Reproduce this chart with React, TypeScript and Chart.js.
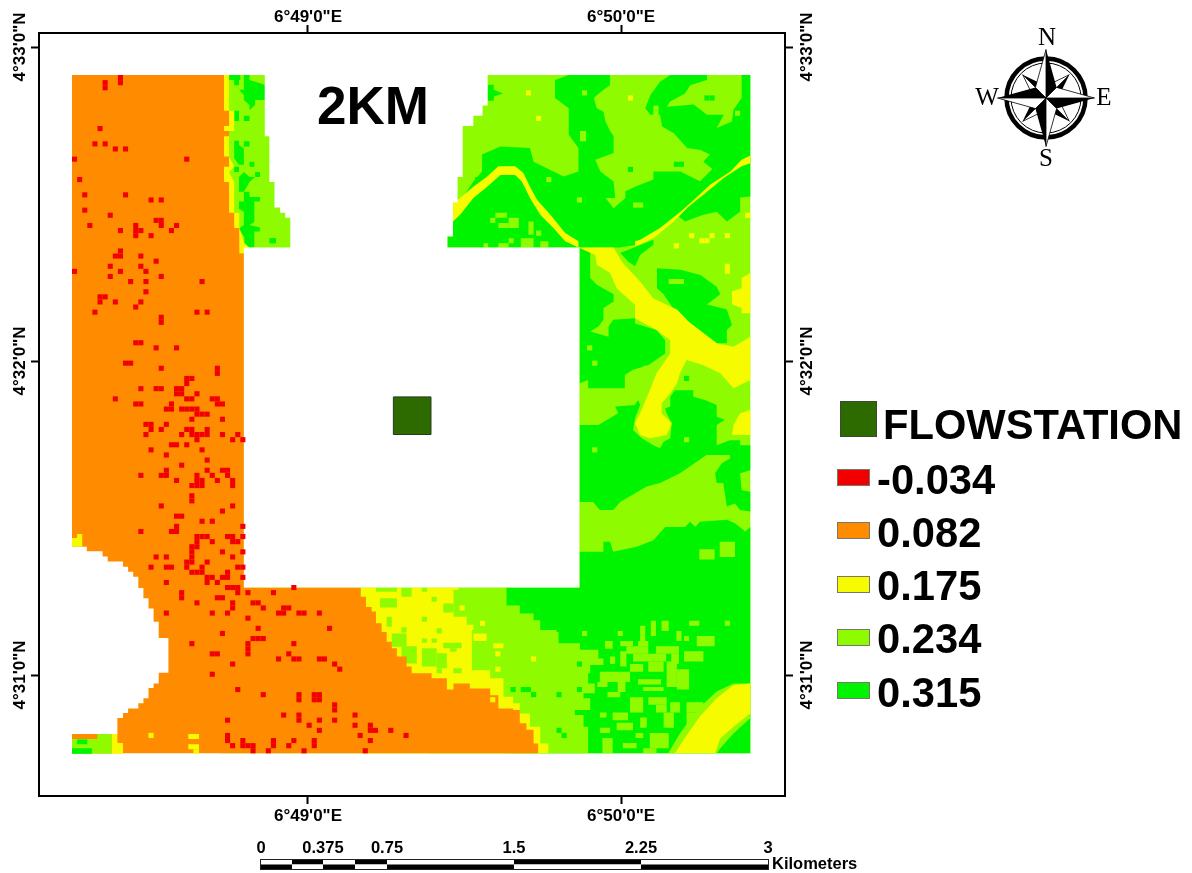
import React, { useEffect, useRef } from "react";
import { Chart, registerables } from "chart.js";

Chart.register(...registerables);

type P = [number, number];
type R = [number, number, number, number];

const RED = "#f20000";
const ORANGE = "#ff8c00";
const YELLOW = "#f6fb00";
const LIME = "#8efb00";
const GREEN = "#00f400";
const WHITE = "#ffffff";

// raster columns / rows (one cell = 30 m); ticks fall at these raster positions
const X_TICKS = [46.27, 107.65];
const X_LABELS = ["6°49'0\"E", "6°50'0\"E"];
const Y_TICKS = [-5.49, 56.08, 117.65];
const Y_LABELS = ["4°33'0\"N", "4°32'0\"N", "4°31'0\"N"];

const LEGEND_VALUES = ["-0.034", "0.082", "0.175", "0.234", "0.315"];
const SCALE_KM = ["0", "0.375", "0.75", "1.5", "2.25", "3"];

const flowstation: P[] = [[66.7, 66.8]];

const limeBase: P[] = [[29, 0], [133, 0], [133, 133], [29, 133]];

const greenNE: P[] = [[117.3, 0], [124.5, 0], [124.5, 1], [121.2, 2], [120.2, 3.6], [117.3, 5.2], [116.6, 6.2], [121.9, 5.8], [124.5, 7.8], [127.8, 7.8], [126.4, 10.4], [129.4, 9.1], [129.7, 6.8], [131.3, 4.5], [131.3, 0], [133, 0], [133, 15], [129.7, 15.3], [129.1, 17], [125.8, 18.6], [123.8, 17], [125.1, 15.6], [123.2, 14.7], [120.6, 14.3], [118, 11.4], [115.7, 10.1], [115.3, 7.8], [113.4, 7.8], [112.4, 6.5], [113.4, 3.9], [115.3, 1.3]];

const greenCentre: P[] = [[73.6, 33.8], [73.6, 31.7], [74.7, 31.7], [74.7, 28.7], [76, 25], [78.7, 20.9], [80.4, 18.9], [80.4, 15.6], [84, 14], [89.8, 14.3], [90.5, 17], [94.4, 18.9], [96.4, 19.9], [99.3, 18.9], [99.3, 14.3], [97.4, 11.7], [97.4, 6.5], [94.7, 4.5], [94.7, 1], [97.4, 0], [105.5, 0], [105.5, 2], [104.2, 2.9], [102.3, 4.5], [102.9, 6.5], [104.2, 7.2], [104.6, 9.1], [105.5, 11], [106.2, 12], [106.2, 15.3], [102.6, 16.6], [103.6, 18.9], [106.2, 20.9], [106.5, 24.1], [104.6, 24.1], [106.2, 26.1], [108.5, 24.1], [108.5, 22.8], [110.4, 21.9], [114, 20.5], [114, 18.9], [119.3, 18.9], [123.2, 20.9], [123.8, 23.2], [120.9, 25.5], [118, 28.4], [114, 31.3], [110.8, 33.3], [107.5, 33.8]];

const greenNorthOfRiver: P[] = [[123, 21], [126, 18], [130, 15], [133, 15], [133, 17], [126, 23], [122, 27]];
const greenSouthOfRiver: P[] = [[133, 17], [133, 23.8], [131, 24], [131, 26.8], [128.4, 28.7], [126.4, 26.8], [123.8, 27.4], [120.2, 28.7], [118.9, 27.7], [123.8, 23.2], [127.8, 19.9]];
const greenBelowFork: P[] = [[107.5, 34.9], [114, 32.3], [114, 33.3], [111.4, 35.3], [110.4, 37.5], [109.1, 36.6]];
const greenNW: P[] = [[81.5, 1.9], [82.7, 1.9], [82.7, 2.9], [84.5, 3.6], [82.7, 4.2], [82.7, 5.06], [81.5, 5.06]];

const greenWest: P[] = [[99.5, 33.8], [101.6, 33.8], [101.6, 39.8], [102.9, 41.1], [106.2, 43], [106.2, 44.4], [104.2, 45.7], [104.2, 48], [103.2, 49.3], [101.6, 50.3], [105.2, 51.3], [105.2, 49.3], [106.1, 48], [110.4, 47.7], [110.4, 48.7], [114.6, 50], [116.3, 52], [116.3, 54.6], [113, 56.9], [110, 57.8], [108.4, 58.8], [108.4, 61.4], [101.2, 61.4], [101.2, 59.8], [99.5, 60.5]];

const greenPocket: P[] = [[114.7, 37.9], [119.3, 38.2], [123.2, 39.2], [126.4, 41.5], [127.1, 43], [124.5, 45], [128.4, 46], [129.4, 49], [128.4, 50], [128.4, 52.6], [126.4, 52.6], [120.9, 48.4], [118.6, 46], [118, 46], [116, 43], [114.7, 41.8]];

const greenMiddle: P[] = [[99.5, 68.6], [103.2, 68.6], [107.1, 66.3], [106.5, 65], [110.4, 64.7], [111, 63.7], [111.4, 64.7], [110.4, 67.3], [110, 69.6], [111.7, 71.2], [114, 72.6], [115.3, 73.2], [116, 71.9], [117.3, 71.2], [117.6, 68.3], [116.6, 66.3], [116.3, 65.4], [117.3, 65], [117.3, 63.1], [118.2, 61.8], [121.8, 61.8], [121.8, 63.1], [124.1, 63.7], [126.4, 64.7], [126.4, 67], [128, 67.6], [126.4, 68.6], [126.4, 72.6], [129, 71.6], [131, 71.6], [131, 72.6], [133, 72.6], [133, 77.5], [131, 78.1], [131.3, 81.4], [133, 81.7], [133, 85.6], [131, 85.3], [130, 84], [128.4, 84.6], [127.7, 80], [126.4, 80], [126.1, 78.1], [127.4, 76.1], [129, 75.2], [129, 74.5], [124.4, 74.5], [119.2, 78.1], [115.3, 80], [112.7, 80.7], [110.4, 82], [107.5, 83.7], [106.1, 85.3], [103.5, 85.3], [102.2, 83.7], [99.5, 83.7]];

const greenSouth: P[] = [[99.5, 93.5], [104.2, 93.5], [104.2, 91.5], [105.5, 91.5], [106.1, 93.5], [110.7, 92.5], [114, 91.2], [116.3, 88.6], [120.2, 88.6], [121.2, 87.6], [122.2, 88.6], [123.1, 87.6], [128.4, 87.2], [130, 87.9], [132, 89.5], [133, 88.6], [133, 133], [85, 133], [85, 100.5], [99.5, 100.5]];

const limeSouthWest: P[] = [[70, 100.5], [85.2, 100.5], [85.2, 104], [87.8, 105.6], [90.5, 106.9], [91.8, 108.8], [95, 109.2], [95.4, 111.4], [99.6, 112.7], [103.2, 114.4], [104.2, 115.7], [101.6, 117.3], [101.2, 119.3], [102.5, 121.2], [100.3, 122.2], [101.6, 124.5], [98.6, 125.5], [100.3, 127.8], [101.2, 131], [101.2, 133], [70, 133]];
const limeCorner: P[] = [[116.9, 133], [119.2, 129.1], [122.5, 124.5], [126.4, 120.9], [129.7, 119.3], [133, 119.3], [133, 126.1], [129.7, 129.1], [127.1, 132], [126.4, 133]];

const limePatches: R[] = [
  [123, 93, 126, 95], [127, 91.5, 130, 94.5], [83, 27, 85.3, 28], [85.6, 28, 87.6, 30], [83.6, 29, 85.6, 30], [85.6, 32, 86.6, 33], [83.6, 33, 85.6, 33.8], [89.5, 28.7, 90.5, 31.3], [88, 32, 90.5, 33.8], [91.8, 32.6, 93.4, 33.8], [80.7, 33, 81.6, 33.8], [91, 30.5, 92, 31.5], [99.6, 11, 100.8, 13], [117, 40, 120, 41],
  [121, 107, 123, 108], [113.5, 107, 114.5, 110], [115.6, 107, 117, 109], [111.4, 108, 112.4, 111], [122.5, 110, 126, 112], [118.5, 109, 119.5, 111], [120, 110, 121, 111], [107, 109, 108, 110], [104.5, 111, 106, 112.5],
  [107.5, 111, 110, 112], [111, 111, 113, 112], [108.7, 112, 113, 113.5], [114.5, 112, 119, 113.5], [110, 113.5, 116.5, 115], [117.5, 113.5, 119, 115.5], [120, 113, 123.8, 115], [105.5, 114, 106.5, 115.5], [107.5, 113, 108.7, 116],
  [103.5, 117, 109.4, 119], [109.4, 115.5, 112, 117], [113, 115, 116, 117], [116.6, 115, 118.6, 120], [118.6, 116.5, 121, 120.5], [107, 119, 108.5, 121], [103, 119, 105, 120], [111, 118.5, 115.5, 119.5], [112, 120, 116, 120.8], [105, 121, 107.5, 122],
  [109.4, 122, 112, 125], [113, 122, 116.6, 123.5], [114.5, 123.5, 116.6, 125], [106, 125, 109, 126.5], [103.5, 125, 104.8, 126], [111.4, 126, 112.7, 128], [116, 125, 118, 128], [117.3, 123, 119.2, 125], [120.5, 123, 123.8, 125], [120.5, 125, 122.5, 127.5], [103.5, 128, 105.5, 129], [108, 131, 110.7, 132], [112, 132, 114.6, 133], [106.8, 127, 110, 128.5], [113.3, 129, 117, 132], [104, 130, 106, 133], [110.5, 129, 112, 130],
];

const yellowRiver: P[] = [[74.7, 25.1], [76.1, 24.1], [78.7, 21.9], [81.4, 19.9], [83.6, 17.9], [86.9, 17.9], [88.5, 19.2], [89.8, 21.9], [91.2, 24.5], [93.8, 27.4], [96.7, 31], [99.3, 32.6], [99.3, 33.8], [96.7, 32.6], [94.4, 30], [91.8, 27.4], [89.8, 24.1], [88.2, 20.9], [86.9, 19.6], [84, 19.6], [81.4, 21.9], [78.7, 24.1], [76.1, 27.4], [74.7, 28.7]];
const yellowBranch: P[] = [[133, 15.8], [131.3, 16.6], [129.1, 18.9], [125.1, 21.5], [121.9, 24.5], [119.3, 26.8], [115.3, 30], [111.4, 32.3], [110.4, 32.6], [110.4, 33.6], [114, 32], [118, 28.7], [120.9, 25.8], [123.8, 23.5], [127.8, 20.2], [131.3, 17.9], [133, 17.3]];
const yellowTrunk: P[] = [[99.3, 33.8], [102.6, 35.3], [102.9, 37.2], [105.5, 38.8], [106.8, 41.8], [110.4, 45.1], [110.4, 47.7], [114.6, 50], [117.3, 52], [117.3, 54.6], [114.6, 58.5], [113.3, 61.8], [111.4, 66.3], [110.4, 68.3], [111.4, 70.6], [113.3, 71.2], [116.6, 70.6], [117.6, 68.3], [115.6, 66.3], [115.6, 64.4], [117.3, 62.4], [118.6, 60.5], [119.2, 58.5], [120.5, 55.9], [123.8, 56.9], [127.1, 58.5], [129.7, 61.4], [133, 59.8], [133, 51.3], [129.7, 53.3], [126.4, 52.6], [120.9, 48.4], [118.6, 46], [114, 43.8], [111.4, 40.5], [109.5, 38.5], [107.8, 36.6], [106.2, 33.8]];
const yellowEast: P[] = [[133, 65.7], [131, 66.3], [129.7, 68.6], [129.4, 70.6], [133, 70.6]];
const yellowNorthEast: P[] = [[133, 38.8], [131.3, 39.8], [131.3, 41.8], [129.4, 42.4], [129.4, 45], [131.3, 45.7], [131.3, 46.7], [133, 46.7]];
const yellowCorner: P[] = [[118.2, 133], [119.9, 130.4], [123.1, 125.8], [126.4, 122.2], [129.7, 119.6], [133, 119.3], [133, 125.2], [129.7, 127.8], [127.1, 130.1], [126.1, 133]];
const yellowStrip: P[] = [[29, 0], [30.8, 0], [30.8, 7], [31.8, 7], [31.8, 11], [30.8, 11], [30.8, 16], [31.8, 18], [30.8, 19], [31.8, 21], [31.8, 27], [32.8, 27], [32.8, 30], [33.8, 33], [34.8, 33.8], [34.8, 35], [29, 35]];
const yellowFringe: P[] = [[56.6, 100.5], [75.8, 100.5], [75.8, 101], [74.8, 103.6], [74.8, 106.2], [77.4, 107.8], [78.7, 108.8], [78.4, 111.1], [78.4, 116.7], [82, 118.3], [84.6, 119.6], [84.6, 121.9], [86.5, 123.2], [87.8, 125.2], [89.8, 127.8], [91.8, 131.1], [93.4, 133], [56.6, 133]];

const limeOnYellow: R[] = [
  [59.6, 100.5, 63.7, 101.3], [64.6, 100.5, 66.6, 102.3], [60.4, 102.6, 63.7, 104.4], [61.7, 106.2, 62.7, 108.2], [64.6, 108.3, 65.6, 109.3], [62.7, 109.5, 65.6, 112.1], [64.6, 112, 67.6, 115.4], [68.6, 112.4, 71.5, 116], [71.5, 113.4, 73.5, 116.3], [68.6, 110.5, 69.6, 111.3], [70.5, 110.5, 71.5, 111.3], [72.8, 111.3, 76.4, 112.4], [74.1, 112.4, 75.4, 113.1], [71.5, 108.5, 72.5, 109.5], [68.6, 106.2, 69.6, 107.2], [70.5, 102.3, 71.5, 103.3], [72.8, 103.6, 74.8, 105.4], [74.8, 116.3, 76.4, 117.3], [71.5, 116.3, 72.5, 117.3], [68.6, 100.5, 69.6, 101.3],
];
const yellowOnLime: R[] = [[78.7, 109.5, 81.3, 111], [82.6, 111.4, 84.6, 112.4]];

const orangeZone: P[] = [[0, 0], [29.8, 0], [29.8, 7], [30.8, 7], [30.8, 10], [29.8, 10], [29.8, 11], [30.8, 11], [30.8, 12], [29.8, 12], [29.8, 16], [30.8, 16], [30.8, 18], [29.8, 18], [29.8, 21], [30.8, 21], [30.8, 27], [31.8, 27], [31.8, 30], [32.8, 30], [32.8, 35], [33.7, 35], [33.7, 100.5], [56.6, 100.5], [56.6, 102.3], [57.65, 102.3], [57.65, 104.3], [58.75, 105.2], [59.6, 107.5], [60.7, 109.2], [61.7, 111.1], [62.7, 112.4], [63.7, 114], [65.6, 116], [66.6, 117.3], [70.5, 118.3], [73.5, 119.3], [73.5, 120.5], [74.8, 120.5], [74.8, 119.3], [76.7, 119.3], [78, 120.3], [82, 121.6], [83.6, 124.2], [86.5, 124.5], [87.8, 127.1], [89.1, 128.4], [90.5, 131.1], [91.4, 133], [0, 133]];

const whiteTop: P[] = [[37.8, -0.2], [81.5, -0.2], [81.5, 6], [80.5, 6], [80.5, 8], [78.7, 8], [78.7, 10], [76.6, 10], [76.6, 20], [75.6, 20], [75.6, 25], [74.7, 25], [74.7, 31.6], [73.6, 31.6], [73.6, 33.9], [42.8, 33.9], [42.8, 28], [41.8, 28], [41.8, 27], [40.8, 27], [40.8, 26], [39.7, 26], [39.7, 21], [38.7, 21], [38.7, 12], [37.8, 12]];
const whiteSquare: P[] = [[33.7, 33.8], [99.5, 33.8], [99.5, 100.5], [33.7, 100.5]];
const whiteBay: P[] = [[-0.2, 92.5], [2.9, 92.5], [2.9, 93.4], [6, 93.4], [6, 94.4], [7, 95.4], [10, 95.5], [10, 96.4], [11, 97.4], [12, 98.4], [13, 100.6], [14, 102.6], [15, 104.6], [16, 107.2], [17, 110.4], [18.9, 110.4], [18.9, 117.2], [17, 117.3], [17, 119.3], [16, 120.2], [15, 122.2], [14, 123.2], [13, 124.2], [11, 125.1], [10, 126.1], [8.9, 127.1], [8.9, 129.2], [-0.2, 129.2]];

const limeBottomLeft: P[] = [[0, 130.2], [5, 130.2], [5, 129.2], [7.8, 129.2], [7.8, 133.1], [0, 133.1]];
const yellowBottomLeft: P[] = [[7.8, 129.2], [8.9, 129.2], [8.9, 131], [10, 131], [10, 133.1], [7.8, 133.1]];
const greenBottomLeft: R[] = [[1, 130.3, 3, 131.2], [0, 132, 3.9, 133.1]];
const yellowWestEdge: P[] = [[0, 90.8], [1, 90.8], [1, 90], [2, 90], [2, 92.5], [0, 92.5]];
const yellowOnOrange: R[] = [[22.8, 129.2, 24.9, 130.2], [22.8, 131.2, 24.9, 132.2], [23.8, 132.2, 24.9, 133.1]];

const greenWestTop: P[] = [[33.7, 0], [34.8, 0], [34.8, 1], [36.9, 1.6], [37.8, 1.96], [37.8, 4.9], [35.9, 4.9], [35.9, 5.9], [34.8, 6.9], [34.8, 5.9], [33.7, 4.9], [33.7, 3.9], [32.75, 2.9], [33.7, 2.9]];
const greenWestMid: P[] = [[31.8, 12.9], [32.75, 12.9], [32.75, 13.7], [33.7, 14.4], [33.7, 17.6], [32.75, 17.6], [31.8, 16.3]];
const greenWestLow: P[] = [[33.7, 19], [34.8, 20], [35.9, 20], [34.8, 21], [33.7, 22.9], [34.8, 22.9], [34.8, 23.9], [36.85, 23.9], [36.85, 24.8], [35.75, 24.8], [35.75, 28.8], [34.8, 29.4], [36.85, 29.9], [36.85, 30.7], [35.75, 30.7], [35.75, 33.8], [33.8, 33.8], [33.8, 31.8], [32.75, 30.1], [33.7, 29.4], [33.7, 26.8], [32.75, 26.2], [32.75, 24.8], [33.7, 24.8], [33.7, 22.9], [32.75, 22.9], [32.75, 20]];
const greenWestPatches: R[] = [[30.8, 0, 33, 1], [31.8, 1, 32.75, 2], [31.8, 7, 32.75, 9], [33.7, 8, 34.8, 9], [33.7, 13, 34.8, 14], [34.8, 17, 35.75, 18], [31.8, 18, 32.75, 19], [35.9, 19, 36.85, 20], [38.7, 32, 39.7, 33]];

const redCells: P[] = [
  [6, 1], [6, 2], [9, 0], [9, 1], [5, 10], [4, 13], [6, 13], [8, 14], [10, 14], [0, 16], [22, 16], [1, 20], [2, 23], [10, 23], [15, 24], [17, 24], [2, 26], [7, 27], [3, 29], [9, 30], [12, 29], [12, 30], [12, 31], [13, 30], [15, 31], [16, 28], [17, 28], [17, 29], [19, 30], [20, 29],
  [9, 34], [8, 35], [9, 35], [13, 35], [16, 36], [7, 37], [13, 37], [0, 38], [9, 38], [14, 38], [7, 39], [17, 39], [11, 40], [14, 40], [25, 40], [14, 42], [5, 43], [6, 43], [5, 44], [8, 44], [13, 44], [12, 45],
  [4, 46], [24, 46], [26, 46], [17, 47], [17, 48], [12, 52], [13, 52], [16, 53], [20, 53], [10, 56], [11, 56], [17, 57], [28, 57], [28, 58], [22, 59], [23, 59], [22, 60], [13, 61], [16, 61], [17, 61], [20, 61], [21, 61], [20, 62], [21, 62], [24, 62], [8, 63], [22, 63], [23, 63], [27, 63], [28, 63], [28, 64], [29, 64], [12, 64], [13, 64], [19, 64], [18, 65], [19, 65], [21, 65], [22, 65], [23, 65], [24, 65], [24, 66], [25, 66], [26, 66], [23, 67], [29, 67],
  [14, 68], [15, 68], [18, 68], [15, 69], [17, 69], [22, 69], [23, 69], [26, 69], [14, 70], [21, 70], [23, 70], [24, 70], [25, 70], [26, 70], [29, 70], [32, 70], [24, 71], [31, 71], [33, 71], [19, 72], [20, 72], [22, 72], [15, 73], [25, 73], [18, 74], [26, 75], [21, 76], [18, 77], [26, 77], [29, 77], [30, 77], [13, 78], [17, 78], [18, 78], [24, 78], [27, 78], [30, 78], [20, 79], [24, 79], [25, 79], [28, 79], [31, 79], [23, 80], [24, 80], [25, 80], [31, 80],
  [23, 82], [23, 83], [17, 84], [31, 84], [29, 85], [20, 86], [21, 86], [25, 87], [27, 87], [20, 88], [33, 88], [13, 89], [19, 89], [20, 89], [24, 90], [25, 90], [26, 90], [30, 90], [31, 90], [33, 90], [24, 91], [27, 91], [31, 91], [32, 91], [23, 92], [24, 92], [23, 93], [29, 93], [33, 93], [23, 94], [16, 94], [18, 94], [31, 94], [22, 95], [23, 95], [26, 95], [15, 96], [18, 96], [19, 96], [22, 96], [25, 96], [32, 96], [33, 96], [23, 97], [24, 97], [25, 97], [30, 97], [26, 98], [27, 98], [29, 98], [30, 98], [33, 98], [26, 99], [28, 99], [18, 99],
  [30, 100], [31, 100], [32, 100], [43, 100], [21, 101], [21, 102], [32, 101], [34, 101], [39, 101], [28, 102], [29, 102], [24, 103], [31, 103], [35, 103], [36, 103], [31, 104], [37, 104], [41, 104], [42, 104], [18, 105], [27, 105], [30, 105], [40, 105], [41, 105], [44, 105], [45, 105], [48, 105], [34, 106], [36, 108], [50, 108], [29, 109], [35, 110], [36, 110], [37, 110], [34, 111], [34, 112], [34, 113], [23, 111], [43, 111], [27, 113], [28, 113], [42, 113], [40, 114], [43, 114], [44, 114], [48, 114], [49, 114], [31, 115], [51, 115], [52, 116], [27, 117], [32, 120], [37, 121], [44, 121], [44, 122], [47, 121], [48, 121], [47, 122], [48, 122], [51, 123], [51, 124], [41, 125], [44, 125], [44, 126], [55, 125], [30, 126], [48, 126], [51, 126], [46, 127], [55, 127], [58, 127], [58, 128], [59, 128], [48, 128], [62, 128], [56, 129], [65, 129], [30, 129], [30, 130], [33, 130], [33, 131], [31, 131], [34, 131], [35, 131], [35, 132], [38, 132], [39, 130], [39, 131], [43, 130], [42, 131], [47, 130], [47, 131], [58, 130], [45, 132], [57, 132],
];

const yellowCells: P[] = [[89, 3], [91, 8], [109, 4], [118, 33], [121, 31], [123, 32], [124, 32], [125, 31], [128, 31], [132, 27], [128, 37], [128, 38], [90, 114], [76, 104], [80, 107], [83, 113], [83, 116], [82, 122], [15, 129]];
const limeCells: P[] = [[100, 3], [99, 24], [110, 25], [111, 25], [93, 20], [114, 6], [114, 7], [130, 7], [101, 53], [102, 56], [112, 57], [102, 73], [120, 71], [112, 81], [123, 84], [101, 85], [100, 109], [128, 107], [82, 28]];
const greenCells: P[] = [[109, 18], [118, 17], [119, 17], [124, 4], [125, 4], [79, 20], [120, 59], [86, 120], [89, 120], [88, 120], [90, 121], [95, 121], [99, 120], [99, 115], [95, 128], [96, 129], [118, 91], [39, 32]];

const zone = (verts: P[], color: string, stepped = false) => ({
  data: verts.map(([x, y]) => ({ x, y })),
  showLine: true,
  stepped,
  fill: "shape",
  backgroundColor: color,
  borderColor: color,
  borderWidth: 0,
  pointRadius: 0,
  pointHoverRadius: 0,
});
const box = ([a, b, c, d]: R, color: string) => zone([[a, b], [c, b], [c, d], [a, d]], color);
const cells = (list: P[], color: string) => ({
  data: list.map(([c, r]) => ({ x: c + 0.5, y: r + 0.5 })),
  showLine: false,
  pointStyle: "rect",
  pointRadius: 3.62,
  pointBorderWidth: 0,
  pointBackgroundColor: color,
  backgroundColor: color,
  borderColor: color,
});

// bottom to top
const layers: any[] = [
  zone(limeBase, LIME),
  ...[greenNE, greenCentre, greenNorthOfRiver, greenSouthOfRiver, greenBelowFork, greenNW, greenWest, greenPocket, greenMiddle, greenSouth, greenWestTop, greenWestMid, greenWestLow].map((z) => zone(z, GREEN)),
  ...greenWestPatches.map((r) => box(r, GREEN)),
  zone(limeSouthWest, LIME, true),
  zone(limeCorner, LIME),
  ...limePatches.map((r) => box(r, LIME)),
  cells(limeCells, LIME),
  cells(greenCells, GREEN),
  ...[yellowRiver, yellowBranch, yellowTrunk, yellowEast, yellowNorthEast, yellowCorner, yellowStrip].map((z) => zone(z, YELLOW)),
  zone(yellowFringe, YELLOW, true),
  ...limeOnYellow.map((r) => box(r, LIME)),
  ...yellowOnLime.map((r) => box(r, YELLOW)),
  zone(orangeZone, ORANGE, true),
  zone(whiteTop, WHITE, true),
  zone(whiteSquare, WHITE),
  zone(whiteBay, WHITE, true),
  zone(limeBottomLeft, LIME),
  zone(yellowBottomLeft, YELLOW),
  zone(yellowWestEdge, YELLOW),
  ...greenBottomLeft.map((r) => box(r, GREEN)),
  ...yellowOnOrange.map((r) => box(r, YELLOW)),
  cells(yellowCells, YELLOW),
  cells(redCells, RED),
  {
    data: flowstation.map(([x, y]) => ({ x, y })),
    showLine: false,
    pointStyle: "rect",
    pointRadius: 26.6,
    pointBorderWidth: 1,
    pointBorderColor: "#2a3a20",
    pointBackgroundColor: "#2d6a00",
  },
];

const SANS = '"Liberation Sans", Arial, sans-serif';
const SERIF = '"Liberation Serif", "Times New Roman", serif';

const annotations = {
  id: "annotations",
  afterDraw(chart: any) {
    const ctx: CanvasRenderingContext2D = chart.ctx;
    ctx.save();
    ctx.textBaseline = "alphabetic";
    ctx.textAlign = "left";
    ctx.fillStyle = "#000";

    // title inside the map
    ctx.font = `bold 53px ${SANS}`;
    ctx.fillText("2KM", 317, 124);

    // legend
    ctx.fillStyle = "#2d6a00";
    ctx.fillRect(840, 401, 37, 36);
    ctx.strokeStyle = "#3c4a34";
    ctx.lineWidth = 1;
    ctx.strokeRect(840.5, 401.5, 36, 35);
    ctx.fillStyle = "#000";
    ctx.font = `bold 41.7px ${SANS}`;
    ctx.fillText("FLOWSTATION", 883, 439);
    const colors = [RED, ORANGE, YELLOW, LIME, GREEN];
    const tops = [469, 522, 576, 629, 682];
    const bases = [494, 547, 600, 653, 707];
    LEGEND_VALUES.forEach((t, i) => {
      ctx.fillStyle = colors[i];
      ctx.fillRect(837, tops[i], 33, 17);
      ctx.strokeStyle = "#77776a";
      ctx.strokeRect(837.5, tops[i] + 0.5, 32, 16);
      ctx.fillStyle = "#000";
      ctx.fillText(t, 877, bases[i]);
    });

    // scale bar
    const barX = [261, 292, 323, 355, 387, 514, 641, 768];
    const barTop = 859;
    const barMid = 864.5;
    const barBottom = 870;
    for (let i = 0; i < barX.length - 1; i++) {
      ctx.fillStyle = i % 2 === 0 ? "#fff" : "#000";
      ctx.fillRect(barX[i], barTop, barX[i + 1] - barX[i], barMid - barTop);
      ctx.fillStyle = i % 2 === 0 ? "#000" : "#fff";
      ctx.fillRect(barX[i], barMid, barX[i + 1] - barX[i], barBottom - barMid);
    }
    ctx.strokeStyle = "#222";
    ctx.strokeRect(260.5, barTop + 0.5, 508, barBottom - barTop - 1);
    ctx.fillStyle = "#000";
    ctx.font = `bold 16.5px ${SANS}`;
    ctx.textAlign = "center";
    const kmX = [261, 323, 387, 514, 641, 768];
    SCALE_KM.forEach((t, i) => ctx.fillText(t, kmX[i], 853));
    ctx.textAlign = "left";
    ctx.fillText("Kilometers", 772, 869);

    // compass
    const cx = 1046;
    const cy = 98;
    ctx.strokeStyle = "#000";
    ctx.lineWidth = 4.5;
    ctx.beginPath();
    ctx.arc(cx, cy, 39.5, 0, Math.PI * 2);
    ctx.stroke();
    ctx.lineWidth = 1;
    ctx.beginPath();
    ctx.arc(cx, cy, 35, 0, Math.PI * 2);
    ctx.stroke();
    const kite = (ang: number, tip: number, base: number, spread: number) => {
      const pt = (a: number, r: number): [number, number] => [cx + r * Math.sin(a), cy - r * Math.cos(a)];
      const t = pt(ang, tip);
      const bR = pt(ang + spread, base);
      const bL = pt(ang - spread, base);
      ctx.beginPath();
      ctx.moveTo(cx, cy);
      ctx.lineTo(...t);
      ctx.lineTo(...bR);
      ctx.closePath();
      ctx.fillStyle = "#000";
      ctx.fill();
      ctx.beginPath();
      ctx.moveTo(cx, cy);
      ctx.lineTo(...t);
      ctx.lineTo(...bL);
      ctx.closePath();
      ctx.fillStyle = "#fff";
      ctx.fill();
      ctx.strokeStyle = "#000";
      ctx.lineWidth = 0.8;
      ctx.stroke();
    };
    for (let i = 0; i < 4; i++) kite(Math.PI / 4 + (i * Math.PI) / 2, 33, 12, Math.PI / 4);
    for (let i = 0; i < 4; i++) kite((i * Math.PI) / 2, 48.5, 15, Math.PI / 4);
    ctx.fillStyle = "#000";
    ctx.font = `25px ${SERIF}`;
    ctx.textAlign = "center";
    ctx.fillText("N", 1047, 45);
    ctx.fillText("S", 1046, 166);
    ctx.fillText("W", 987, 105);
    ctx.fillText("E", 1104, 105);
    ctx.restore();
  },
};

const tickFont = { family: SANS, size: 17, weight: "bold" as const };

const xTicks = (pad: number) => ({
  font: tickFont,
  color: "#000",
  autoSkip: false,
  maxRotation: 0,
  padding: pad,
  callback: (v: number) => X_LABELS[X_TICKS.indexOf(v)] ?? "",
});
const yTicks = (pad: number) => ({
  font: tickFont,
  color: "#000",
  autoSkip: false,
  minRotation: 90,
  maxRotation: 90,
  crossAlign: "center" as const,
  padding: pad,
  callback: (v: number) => Y_LABELS[Y_TICKS.indexOf(v)] ?? "",
});
const tickMarks = { display: true, drawOnChartArea: false, drawTicks: true, tickLength: 8, tickWidth: 2, tickColor: "#000" };
const edge = { display: true, color: "#000", width: 2 };
const xRange = { type: "linear" as const, min: -6.47, max: 139.8, grid: tickMarks, border: edge, afterBuildTicks: (s: any) => { s.ticks = X_TICKS.map((value) => ({ value })); } };
const yRange = { type: "linear" as const, min: -8.24, max: 141.37, reverse: true, grid: tickMarks, border: edge, afterBuildTicks: (s: any) => { s.ticks = Y_TICKS.map((value) => ({ value })); } };

export default function App() {
  const ref = useRef<HTMLCanvasElement | null>(null);
  useEffect(() => {
    const chart = new Chart(ref.current as HTMLCanvasElement, {
      type: "scatter",
      data: { datasets: [...layers].reverse() },
      plugins: [annotations],
      options: {
        animation: false,
        responsive: false,
        maintainAspectRatio: false,
        layout: { padding: 0 },
        plugins: { legend: { display: false }, tooltip: { enabled: false }, title: { display: false } },
        scales: {
          x: { ...xRange, position: "bottom", ticks: xTicks(2), afterFit: (s: any) => { s.height = 77; } },
          xTop: { ...xRange, position: "top", ticks: xTicks(-3), afterFit: (s: any) => { s.height = 33; } },
          y: { ...yRange, position: "left", ticks: yTicks(-24), afterFit: (s: any) => { s.width = 39; } },
          yRight: { ...yRange, position: "right", ticks: yTicks(-20), afterFit: (s: any) => { s.width = 407; } },
        },
      } as any,
    } as any);
    return () => chart.destroy();
  }, []);
  return (
    <canvas
      ref={ref}
      width={1192}
      height={873}
      style={{ position: "fixed", left: 0, top: 0, width: 1192, height: 873, display: "block", background: "#fff" }}
    />
  );
}
